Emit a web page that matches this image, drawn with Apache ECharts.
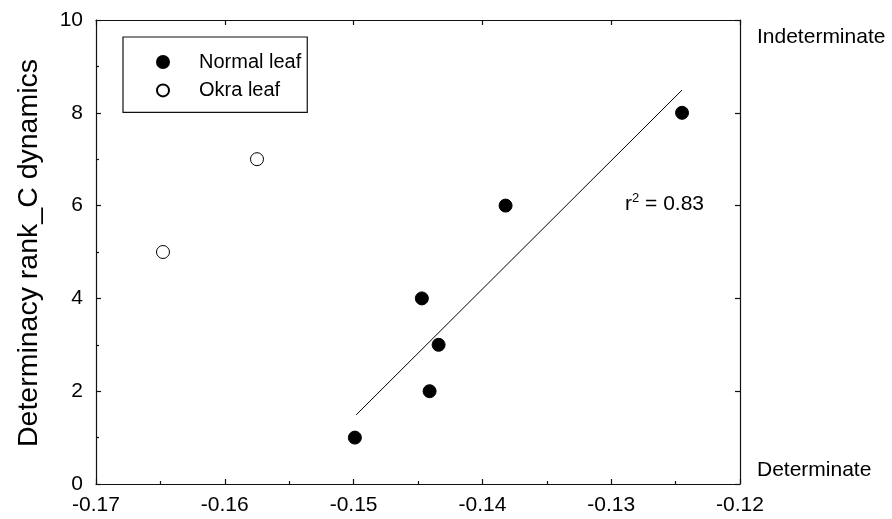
<!DOCTYPE html>
<html>
<head>
<meta charset="utf-8">
<script src="https://cdn.jsdelivr.net/npm/echarts@6/dist/echarts.min.js"></script>
<style>
html,body{margin:0;padding:0;background:#fff;}
#chart{width:892px;height:519px;}
</style>
</head>
<body>
<div id="chart"></div>
<script>
// ---- data ----
const xTickLabels = ['-0.17', '-0.16', '-0.15', '-0.14', '-0.13', '-0.12'];
const yTickLabels = ['0', '2', '4', '6', '8', '10'];
const normalX = [-0.1499, -0.1441, -0.1434, -0.1447, -0.1382, -0.1245];
const normalY = [1, 2, 3, 4, 6, 8];
const okraX = [-0.1648, -0.1575];
const okraY = [5, 7];
const fitX = [-0.1498, -0.1245];
const fitY = [1.49, 8.49];
const seriesNames = ['Normal leaf', 'Okra leaf'];
const yTitle = 'Determinacy rank_C dynamics';
const r2Base = 'r', r2Sup = '2', r2Rest = ' = 0.83';
const topRightLabel = 'Indeterminate';
const bottomRightLabel = 'Determinate';

const xMin = -0.17, xMax = -0.12, xStep = 0.01;
const yMin = 0, yMax = 10, yStep = 2;

const FONT = '"Liberation Sans", Arial, sans-serif';
const zip = (xs, ys) => xs.map((x, i) => [x, ys[i]]);

const chart = echarts.init(document.getElementById('chart'), null, {renderer: 'canvas'});

const lineStyle = {color: '#111', width: 1.2};
function xAx(pos, showLabels) {
  return {
    type: 'value', position: pos, min: xMin, max: xMax, interval: xStep,
    axisLine: {show: true, onZero: false, lineStyle},
    axisTick: {show: true, inside: true, length: 5, lineStyle},
    minorTick: {show: showLabels, splitNumber: 2, length: 3, lineStyle},
    splitLine: {show: false},
    axisLabel: {
      show: showLabels, margin: 11, fontSize: 21, color: '#000', fontFamily: FONT,
      formatter: v => xTickLabels[Math.round((v - xMin) / xStep)] || ''
    }
  };
}
function yAx(pos, showLabels) {
  return {
    type: 'value', position: pos, min: yMin, max: yMax, interval: yStep,
    axisLine: {show: true, onZero: false, lineStyle},
    axisTick: {show: true, inside: true, length: 5, lineStyle},
    minorTick: {show: showLabels, splitNumber: 2, length: 3, lineStyle},
    splitLine: {show: false},
    axisLabel: {
      show: showLabels, margin: 13, fontSize: 21, color: '#000', fontFamily: FONT,
      formatter: v => yTickLabels[Math.round((v - yMin) / yStep)] || ''
    }
  };
}

const option = {
  animation: false,
  backgroundColor: '#fff',
  grid: {left: 96, top: 20, right: 152, bottom: 35, containLabel: false},
  xAxis: [xAx('bottom', true), xAx('top', false)],
  yAxis: [yAx('left', true), yAx('right', false)],
  legend: {
    left: 123, top: 37, orient: 'vertical',
    data: seriesNames,
    itemWidth: 12, itemHeight: 12, itemGap: 8.4,
    borderColor: '#111', borderWidth: 1.2, borderRadius: 0,
    padding: [15, 6, 12, 33],
    selectedMode: false,
    textStyle: {fontSize: 20, lineHeight: 20, color: '#000', fontFamily: FONT, padding: [0, 0, 0, 25]}
  },
  series: [
    {
      name: seriesNames[0], type: 'scatter', xAxisIndex: 0, yAxisIndex: 0,
      symbol: 'circle', symbolSize: 13,
      itemStyle: {color: '#000', borderColor: '#000', borderWidth: 1, opacity: 1},
      data: zip(normalX, normalY), z: 5
    },
    {
      name: seriesNames[1], type: 'scatter', xAxisIndex: 0, yAxisIndex: 0,
      symbol: 'circle', symbolSize: 13,
      itemStyle: {color: '#fff', borderColor: '#000', borderWidth: 1, opacity: 1},
      data: zip(okraX, okraY), z: 5
    },
    {
      name: 'fit', type: 'line', xAxisIndex: 0, yAxisIndex: 0,
      showSymbol: false, symbol: 'none', silent: true,
      lineStyle: {color: '#000', width: 1},
      data: zip(fitX, fitY), z: 3
    }
  ],
  graphic: [
    {
      type: 'text', x: 29, y: 253, rotation: Math.PI / 2,
      style: {text: yTitle, fontSize: 28.5, fontFamily: FONT, fill: '#000', textAlign: 'center', textVerticalAlign: 'middle'}
    },
    {
      type: 'text', x: 625, y: 204,
      style: {
        text: '{b|' + r2Base + '}{s|' + r2Sup + '}{b|' + r2Rest + '}',
        fontFamily: FONT, fill: '#000', textAlign: 'left', textVerticalAlign: 'middle',
        rich: {
          b: {fontSize: 21, lineHeight: 24, fontFamily: FONT, fill: '#000'},
          s: {fontSize: 13, lineHeight: 13, verticalAlign: 'top', fontFamily: FONT, fill: '#000'}
        }
      }
    },
    {
      type: 'text', x: 757, y: 37,
      style: {text: topRightLabel, fontSize: 21, fontFamily: FONT, fill: '#000', textAlign: 'left', textVerticalAlign: 'middle'}
    },
    {
      type: 'text', x: 757, y: 470,
      style: {text: bottomRightLabel, fontSize: 21, fontFamily: FONT, fill: '#000', textAlign: 'left', textVerticalAlign: 'middle'}
    }
  ]
};
chart.setOption(option);
</script>
</body>
</html>
